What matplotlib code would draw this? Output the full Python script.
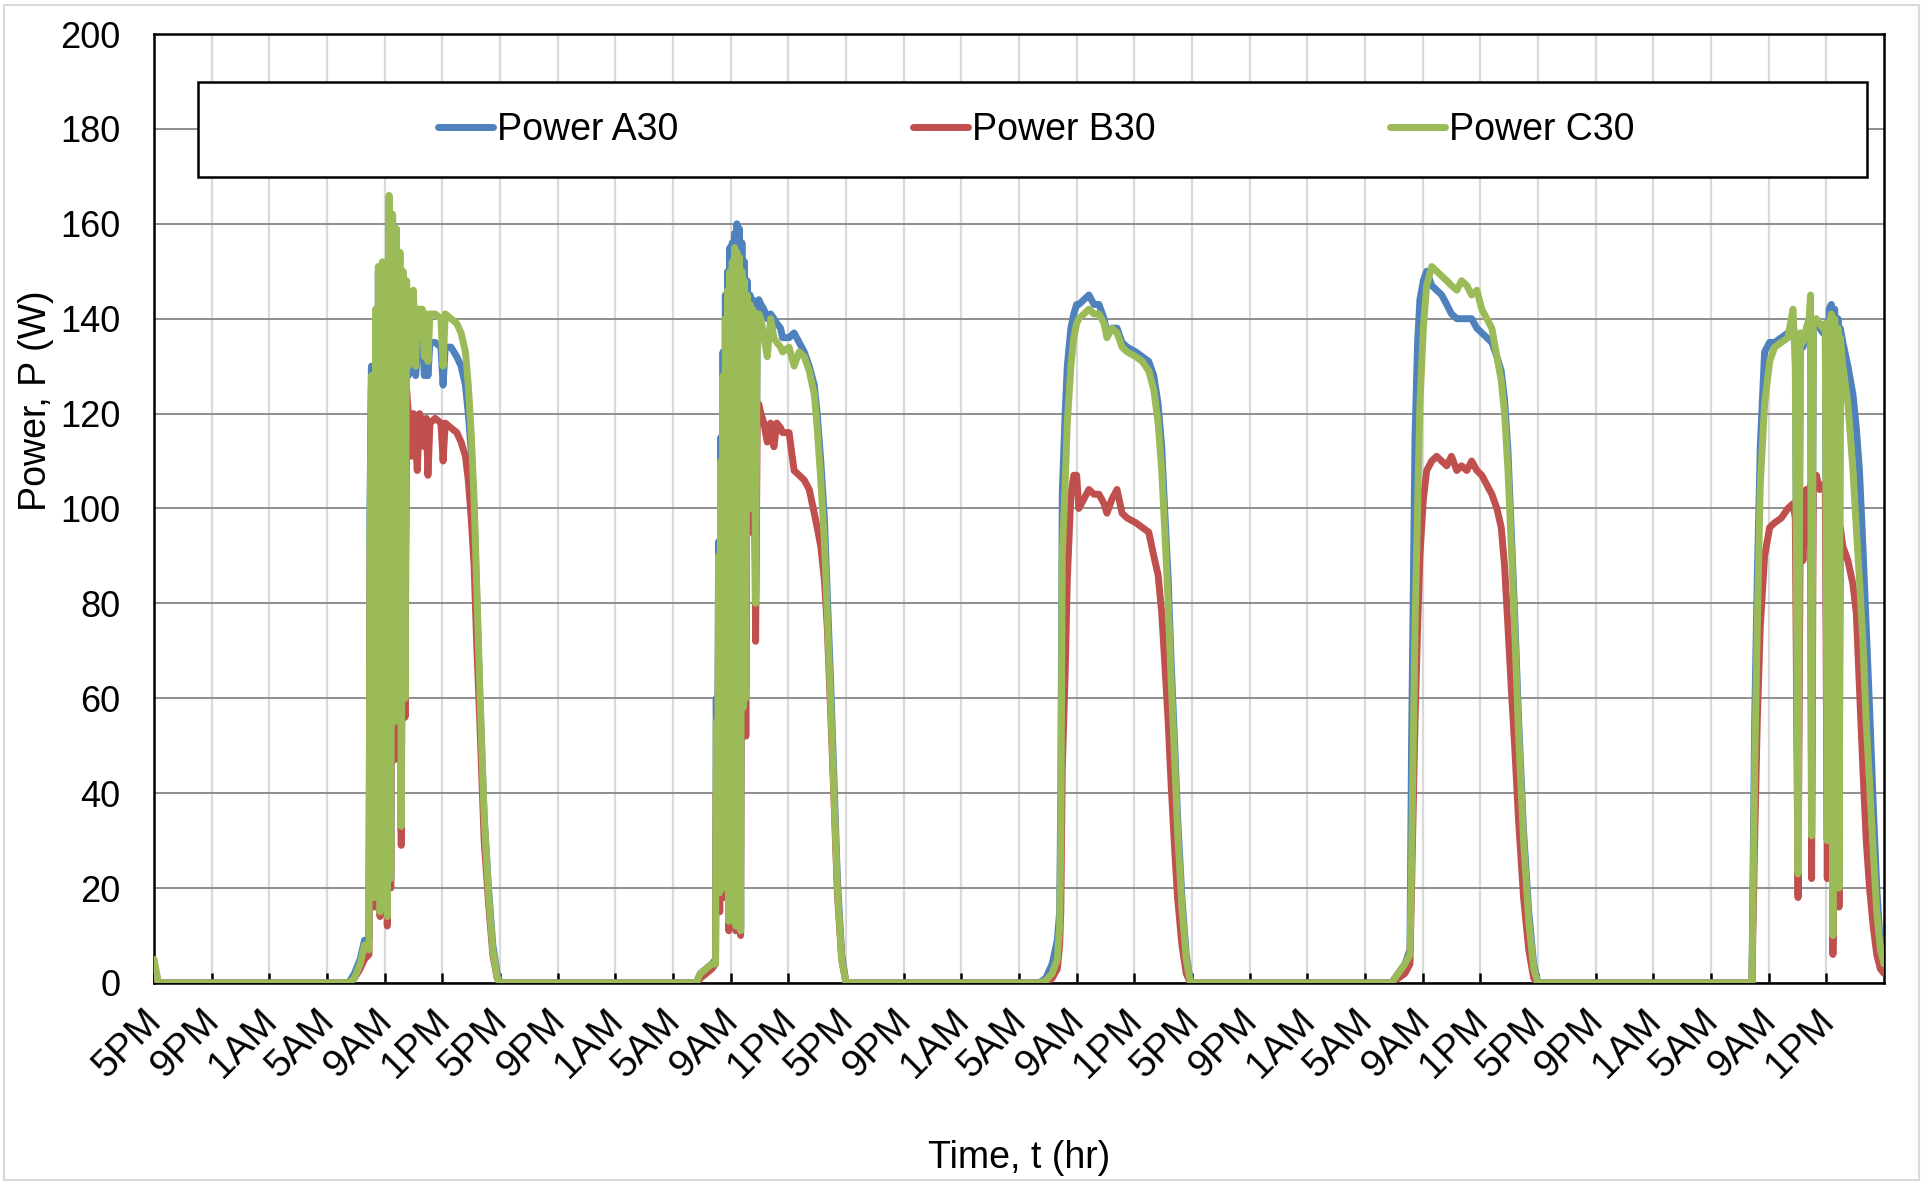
import numpy as np
import matplotlib
matplotlib.use("Agg")
import matplotlib.pyplot as plt
import matplotlib.transforms as mtransforms
from matplotlib.patches import Rectangle

plt.rcParams["font.family"] = ["Liberation Sans", "DejaVu Sans"]

# time in hours counted from 5PM of the first evening; a = A30, b = B30, c = C30 (W)
t_day0 = [0.0, 0.3, 13.5]
a_day0 = [4, 0, 0]
b_day0 = [2, 0, 0]
c_day0 = [5, 0, 0]

t_day1 = [13.9, 14.3, 14.6, 14.91, 14.98, 15.08, 15.17, 15.26, 15.38, 15.49, 15.56, 15.68,
          15.84, 15.95, 16.07, 16.18, 16.30, 16.42, 16.55, 16.67, 16.81, 16.95, 17.06, 17.15,
          17.27, 17.41, 17.52, 17.64, 17.76, 17.85, 17.99, 18.15, 18.26, 18.42, 18.61, 18.75,
          18.89, 19.00, 19.14, 19.5, 19.9, 20.05, 20.2, 20.6, 21.0, 21.3, 21.6, 21.8, 22.0,
          22.2, 22.4, 22.6, 22.9, 23.2, 23.5, 23.8, 24.0]
a_day1 = [2, 5, 9, 9, 100, 130, 40, 20, 142, 60, 150, 16,
          150, 100, 140, 14, 160, 22, 158, 55, 155, 90, 150, 32,
          148, 62, 145, 128, 135, 130, 134, 128, 133, 135, 136, 128,
          135, 128, 135, 135, 134, 126, 134, 134, 132, 130, 126, 120, 112,
          100, 80, 60, 35, 20, 8, 2, 0]
b_day1 = [1, 3, 5, 6, 80, 125, 30, 16, 130, 50, 135, 14,
          130, 95, 125, 12, 140, 20, 135, 47, 130, 80, 125, 29,
          125, 56, 125, 120, 119, 111, 120, 114, 108, 120, 118, 113,
          119, 107, 118, 119, 118, 110, 118, 117, 116, 114, 111, 106, 98,
          88, 70, 55, 30, 17, 6, 1, 0]
c_day1 = [1, 4, 8, 7, 95, 128, 35, 18, 142, 55, 151, 15,
          152, 100, 140, 14, 166, 22, 162, 55, 159, 90, 154, 33,
          150, 60, 148, 130, 145, 140, 146, 130, 142, 142, 142, 132,
          141, 131, 141, 141, 140, 130, 141, 140, 139, 137, 133, 126, 116,
          102, 82, 62, 35, 19, 7, 1, 0]

t_day2 = [37.6, 37.9, 38.3, 38.7, 38.95, 39.00, 39.08, 39.16, 39.24, 39.32, 39.40, 39.47,
          39.55, 39.63, 39.71, 39.79, 39.87, 39.95, 40.03, 40.11, 40.19, 40.27, 40.35, 40.43,
          40.51, 40.60, 40.69, 40.78, 40.87, 40.96, 41.05, 41.14, 41.23, 41.35, 41.43, 41.52,
          41.62, 41.73, 41.85, 41.95, 42.1, 42.3, 42.54, 42.77, 43.0, 43.2, 43.46, 43.6,
          44.05, 44.4, 44.75, 45.1, 45.45, 45.8, 46.0, 46.25, 46.5, 46.7, 46.95, 47.2,
          47.4, 47.7, 48.0]
a_day2 = [0, 2, 3, 4, 5, 60, 25, 93, 20, 115, 35, 133,
          22, 145, 40, 150, 14, 155, 30, 156, 26, 158, 12, 160,
          40, 159, 11, 156, 60, 152, 62, 148, 110, 145, 100, 144,
          143, 82, 143, 144, 143, 142, 140, 141, 140, 139, 138, 136,
          136, 137, 135, 133, 130, 126, 120, 110, 98, 82, 62, 40,
          22, 6, 0]
b_day2 = [0, 1, 2, 3, 4, 40, 18, 75, 15, 95, 28, 110,
          18, 120, 33, 125, 11, 128, 25, 130, 22, 132, 11, 135,
          35, 133, 10, 130, 52, 128, 52, 125, 100, 122, 95, 122,
          120, 72, 122, 122, 120, 118, 114, 118, 113, 118, 117, 116,
          116, 108, 107, 106, 104, 99, 96, 92, 85, 75, 56, 36,
          19, 5, 0]
c_day2 = [0, 2, 3, 4, 4, 55, 22, 90, 19, 110, 33, 128,
          20, 140, 38, 146, 13, 150, 28, 152, 25, 155, 12, 154,
          38, 153, 11, 150, 58, 148, 60, 145, 112, 143, 100, 142,
          141, 80, 141, 141, 140, 136, 132, 140, 136, 135, 134, 133,
          134, 130, 133, 132, 129, 124, 117, 106, 93, 78, 58, 37,
          20, 5, 0]

t_day3 = [61.4, 61.86, 62.3, 62.66, 62.82, 62.9, 63.0, 63.2, 63.35, 63.6, 63.8, 64.0,
          64.15, 64.5, 64.85, 65.2, 65.55, 65.9, 66.1, 66.45, 66.8, 67.15, 67.5, 68.1,
          68.55, 69.0, 69.35, 69.65, 69.9, 70.1, 70.35, 70.55, 70.8, 71.0, 71.3, 71.6, 71.9]
a_day3 = [0, 1, 4, 9, 15, 40, 103, 120, 130, 138, 141, 143,
          143, 144, 145, 143, 143, 140, 137, 138, 138, 135, 134, 133,
          132, 131, 128, 122, 113, 100, 85, 68, 50, 35, 18, 6, 0]
b_day3 = [0, 0, 1, 3, 8, 15, 45, 65, 85, 103, 107, 107,
          100, 102, 104, 103, 103, 101, 99, 102, 104, 99, 98, 97,
          96, 95, 90, 86, 78, 68, 55, 42, 28, 18, 8, 2, 0]
c_day3 = [0, 0.5, 2, 5, 12, 30, 90, 105, 118, 130, 136, 139,
          140, 141, 142, 141, 141, 139, 136, 138, 137, 134, 133, 132,
          131, 129, 125, 118, 108, 96, 80, 64, 47, 32, 16, 5, 0]

t_day4 = [85.84, 86.3, 86.77, 87.12, 87.23, 87.47, 87.65, 87.81, 88.05, 88.28, 88.63, 88.97,
          89.32, 89.67, 90.0, 90.37, 90.7, 91.06, 91.4, 91.76, 92.1, 92.45, 92.8, 93.15,
          93.45, 93.68, 93.92, 94.15, 94.38, 94.66, 95.0, 95.36, 95.7, 96.0]
a_day4 = [0, 2, 4, 7, 50, 115, 135, 144, 148, 150, 147, 146,
          145, 143, 141, 140, 140, 140, 140, 138, 137, 136, 135, 132,
          129, 123, 112, 95, 78, 55, 32, 15, 4, 0]
b_day4 = [0, 1, 2, 4, 20, 55, 75, 90, 102, 108, 110, 111,
          110, 109, 111, 108, 109, 108, 110, 108, 107, 105, 103, 100,
          96, 88, 75, 62, 50, 34, 18, 7, 1, 0]
c_day4 = [0, 2, 4, 6, 25, 75, 100, 122, 138, 147, 151, 150,
          149, 148, 147, 146, 148, 147, 145, 146, 142, 140, 138, 132,
          127, 120, 108, 92, 75, 52, 30, 13, 3, 0]

t_day5 = [110.57, 110.84, 111.03, 111.21, 111.42, 111.72, 112.07, 112.42, 112.88, 113.34,
          113.69, 113.85, 114.04, 114.2, 114.38, 114.61, 114.8, 114.91, 114.98, 115.1,
          115.31, 115.54, 115.77, 115.93, 116.07, 116.2, 116.35, 116.46, 116.58, 116.69,
          116.81, 116.88, 116.97, 117.15, 117.5, 117.85, 118.08, 118.3, 118.54, 118.77,
          119.0, 119.25, 119.5, 119.75, 120.0]
a_day5 = [0, 0, 55, 85, 113, 133, 135, 135, 136, 137,
          139, 135, 25, 136, 134, 137, 138, 140, 32, 138,
          139, 138, 137, 138, 30, 142, 143, 8, 142, 35,
          140, 22, 138, 135, 130, 124, 117, 108, 92, 75,
          58, 38, 20, 8, 5]
b_day5 = [0, 0, 30, 55, 75, 90, 96, 97, 98, 100,
          101, 98, 18, 100, 89, 104, 103, 105, 22, 105,
          107, 104, 105, 104, 22, 103, 105, 6, 100, 25,
          98, 16, 96, 92, 89, 84, 78, 62, 45, 30,
          20, 12, 6, 3, 2]
c_day5 = [0, 0, 45, 75, 105, 122, 131, 134, 135, 136,
          142, 130, 23, 137, 135, 138, 140, 145, 31, 139,
          140, 139, 138, 139, 30, 138, 141, 10, 140, 30,
          138, 20, 136, 130, 122, 108, 96, 85, 72, 55,
          42, 28, 15, 7, 4]

series_names = ["Power A30", "Power B30", "Power C30"]
series_colors = ["#4f81bd", "#c0504d", "#9bbb59"]
tick_labels = ["5PM", "9PM", "1AM", "5AM", "9AM", "1PM"] * 5

t = np.concatenate([t_day0, t_day1, t_day2, t_day3, t_day4, t_day5])
power_a = np.concatenate([a_day0, a_day1, a_day2, a_day3, a_day4, a_day5])
power_b = np.concatenate([b_day0, b_day1, b_day2, b_day3, b_day4, b_day5])
power_c = np.concatenate([c_day0, c_day1, c_day2, c_day3, c_day4, c_day5])

fig = plt.figure(figsize=(19.23, 11.85), dpi=100)
fig.patches.append(Rectangle((0.002, 0.004), 0.996, 0.992, transform=fig.transFigure,
                             fill=False, edgecolor="#d9d9d9", lw=1.5))
ax = fig.add_axes([0.0801, 0.1705, 0.8996, 0.8008])

for y, name, col in zip([power_a, power_b, power_c], series_names, series_colors):
    ax.plot(t, y, color=col, lw=5, label=name, solid_joinstyle="round", solid_capstyle="round", zorder=3)

ax.set_xlim(0, 120)
ax.set_ylim(0, 200)
ax.set_yticks(np.arange(0, 201, 20))
ax.set_xticks(np.arange(0, 120, 4))
ax.set_xticklabels(tick_labels, rotation=45, ha="right")
ax.set_axisbelow(True)
ax.yaxis.grid(True, color="#868686", lw=1.3)
ax.xaxis.grid(True, color="#d9d9d9", lw=1.6)
ax.tick_params(axis="x", direction="in", length=7, width=1.8, pad=14, labelsize=28)
ax.tick_params(axis="y", length=0, pad=24, labelsize=26)
for s in ax.spines.values():
    s.set_linewidth(1.8)

# Excel puts the rotated labels a little right of the tick
shift = mtransforms.ScaledTranslation(0.15, 0, fig.dpi_scale_trans)
for lab in ax.get_xticklabels():
    lab.set_transform(lab.get_transform() + shift)

ax.set_xlabel("Time, t (hr)", fontsize=27)
ax.xaxis.set_label_coords(0.5, -0.165)
ax.set_ylabel("Power, P (W)", fontsize=27)
ax.yaxis.set_label_coords(-0.058, 0.614)

# legend box drawn in data space, entries centred inside it
ax.add_patch(Rectangle((3.05, 169.8), 115.8, 20.1, facecolor="white", edgecolor="black", lw=1.8, zorder=4))
leg = ax.legend(loc="center", bbox_to_anchor=(0.510, 0.899), ncol=3, frameon=False, fontsize=27,
                handlelength=1.45, handletextpad=0.11, columnspacing=6.27)
leg.set_zorder(5)

fig.savefig("out.png", dpi=100)
